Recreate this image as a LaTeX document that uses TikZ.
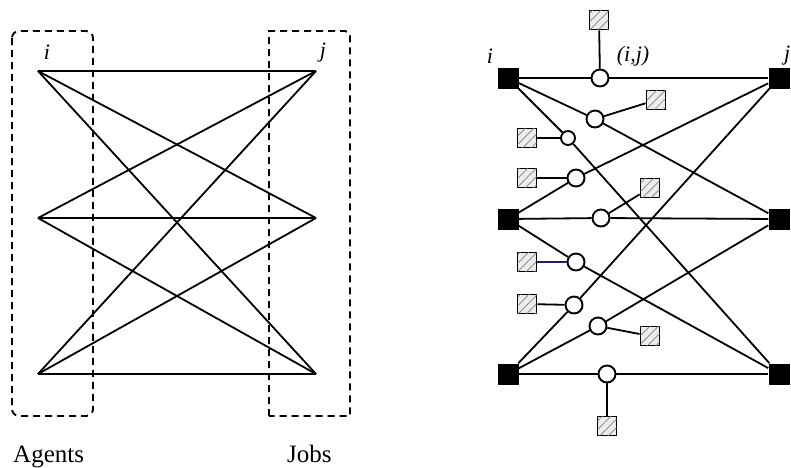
\documentclass[tikz,border=0pt]{standalone}
\usepackage{fontspec}
\setmainfont{Liberation Serif}
\usetikzlibrary{patterns.meta}
\definecolor{navyline}{rgb}{0.12,0.12,0.42}
\begin{document}
\begin{tikzpicture}[x=1pt,y=-1pt,
  edge/.style={line width=1.8pt},
  groupbox/.style={dash pattern=on 7pt off 5pt, line width=1.9pt},
  agent/.style={fill=black, minimum size=21pt, inner sep=0pt},
  pair/.style={circle, draw, fill=white, line width=1.9pt, minimum size=17pt, inner sep=0pt},
  smallpair/.style={pair, minimum size=14pt},
  hatchbox/.style={draw, line width=1.9pt, minimum size=19pt, inner sep=0pt, fill=gray!15,
    postaction={pattern={Lines[angle=45,distance=6pt,line width=0.7pt]}, pattern color=gray}},
  lab/.style={font=\fontsize{22}{26}\selectfont\itshape, inner sep=0pt},
  capt/.style={font=\fontsize{25}{28}\selectfont, inner sep=0pt, anchor=base west}
]
\useasboundingbox (0,0) rectangle (791,467);

% ---- bipartite graph: agents and jobs ----
\draw[groupbox, rounded corners=7pt] (12,31) rectangle (93,416);
\draw[groupbox] (269,416) -- (269,31) [rounded corners=5pt] -- (350,31) [sharp corners] -- (350,416) -- cycle;

\coordinate (a1) at (38,71);
\coordinate (a2) at (38,218);
\coordinate (a3) at (38,374);
\coordinate (b1) at (316,71);
\coordinate (b2) at (316,218);
\coordinate (b3) at (316,374);
\foreach \u in {a1,a2,a3}
  \foreach \v in {b1,b2,b3}
    \draw[edge] (\u) -- (\v);

\node[lab] (li) at (47,52) {i};
\node[lab] (lj) at (323,53) {j};
\node[capt] (agents) at (13,462) {Agents};
\node[capt] (jobs) at (287,462) {Jobs};

% ---- expanded graph with one node per pair (i,j) ----
\node[agent] (L1) at (508,78) {};
\node[agent] (L2) at (508,219) {};
\node[agent] (L3) at (508,374) {};
\node[agent] (R1) at (779,78) {};
\node[agent] (R2) at (779,219) {};
\node[agent] (R3) at (779,374) {};

\node[pair]      (c1) at (600,78) {};
\node[pair]      (c2) at (595,119) {};
\node[smallpair] (c3) at (568,138) {};
\node[pair]      (c4) at (576,178) {};
\node[pair]      (c5) at (601,218) {};
\node[pair]      (c6) at (576,262) {};
\node[pair]      (c7) at (574,305) {};
\node[pair]      (c8) at (598,326) {};
\node[pair]      (c9) at (607,374) {};

\node[hatchbox] (s1) at (599,20) {};
\node[hatchbox] (s2) at (656,100) {};
\node[hatchbox] (s3) at (527,138) {};
\node[hatchbox] (s4) at (527,178) {};
\node[hatchbox] (s5) at (650,188) {};
\node[hatchbox] (s6) at (527,262) {};
\node[hatchbox] (s7) at (527,304) {};
\node[hatchbox] (s8) at (650,336) {};
\node[hatchbox] (s9) at (607,426) {};

\draw[edge] (L1) -- (c1) -- (R1);
\draw[edge] (L1) -- (c2) -- (R2);
\draw[edge] (L1) -- (c3) -- (R3);
\draw[edge] (L2) -- (c4) -- (R1);
\draw[edge] (L2) -- (c5) -- (R2);
\draw[edge] (L2) -- (c6) -- (R3);
\draw[edge] (L3) -- (c7) -- (R1);
\draw[edge] (L3) -- (c8) -- (R2);
\draw[edge] (L3) -- (c9) -- (R3);

\foreach \k in {1,2,3,4,5,7,8,9}
  \draw[edge] (c\k) -- (s\k);
\draw[edge, navyline] (c6) -- (s6);

\node[lab] (ri) at (490,56) {i};
\node[lab] (rij) at (633,56) {(i,j)};
\node[lab, anchor=west] (rj) at (784,56) {j};
\end{tikzpicture}
\end{document}
